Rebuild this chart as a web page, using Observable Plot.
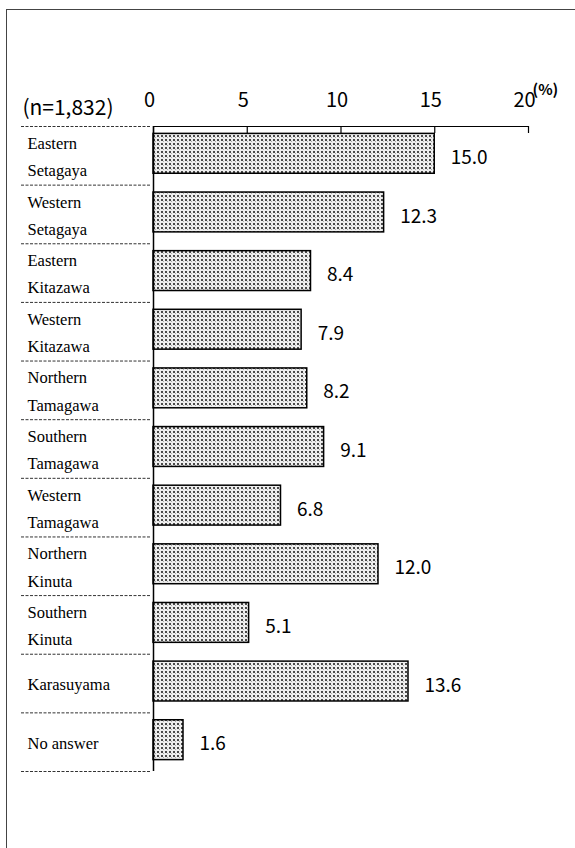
<!DOCTYPE html>
<html>
<head>
<meta charset="utf-8">
<script src="https://cdn.jsdelivr.net/npm/d3@7"></script>
<script src="https://cdn.jsdelivr.net/npm/@observablehq/plot@0.6"></script>
<style>
  html, body { margin: 0; padding: 0; background: #fff; }
  #wrap { position: relative; width: 575px; height: 848px; overflow: hidden; }
  #border { position: absolute; left: 6px; top: 9px; width: 600px; height: 900px;
            border-left: 1.5px solid #444; border-top: 1.5px solid #444; }
  #chart { position: absolute; left: 0; top: 0; }
</style>
</head>
<body>
<div id="wrap"><div id="border"></div><div id="chart"></div></div>
<script>
const districts = [
  "Eastern\nSetagaya", "Western\nSetagaya", "Eastern\nKitazawa", "Western\nKitazawa",
  "Northern\nTamagawa", "Southern\nTamagawa", "Western\nTamagawa", "Northern\nKinuta",
  "Southern\nKinuta", "Karasuyama", "No answer"
];
const percents = [15.0, 12.3, 8.4, 7.9, 8.2, 9.1, 6.8, 12.0, 5.1, 13.6, 1.6];
const tickValues = [0, 5, 10, 15, 20];
const sampleLabel = "(n=1,832)";
const unitLabel = "(%)";

const data = districts.map((d, i) => ({district: d, value: percents[i]}));

const W = 575, H = 848;
const mTop = 126, mBottom = 77, mLeft = 153, mRight = 47;
const innerH = H - mTop - mBottom;
const step = innerH / districts.length;
const sans = "'Noto Sans CJK JP', 'Noto Sans', sans-serif";
const serif = "'Liberation Serif', 'DejaVu Serif', serif";

const chart = Plot.plot({
  width: W, height: H,
  marginTop: mTop, marginBottom: mBottom, marginLeft: mLeft, marginRight: mRight,
  style: {fontFamily: sans, background: "transparent", color: "#000"},
  x: {domain: [0, 20], axis: null},
  y: {domain: districts, paddingInner: 0.32, paddingOuter: 0.16, round: false, axis: null},
  marks: [
    Plot.barX(data, {x: "value", y: "district", fill: "url(#dotpat)", stroke: "#000", strokeWidth: 1.5, dy: -2}),
    // dashed separators in left margin
    Plot.ruleY(districts, {y: d => d, dy: -step / 2, stroke: "#333", strokeWidth: 1, strokeDasharray: "3,1.5",
      insetLeft: -(mLeft - 21), insetRight: (W - mRight) - 150}),
    Plot.ruleY([districts[districts.length - 1]], {y: d => d, dy: step / 2, stroke: "#333", strokeWidth: 1, strokeDasharray: "3,1.5",
      insetLeft: -(mLeft - 21), insetRight: (W - mRight) - 150}),
    // axis lines
    Plot.ruleX([0], {stroke: "#000", strokeWidth: 1.5}),
    Plot.ruleY([0], {y: () => districts[0], dy: -step / 2, stroke: "#000", strokeWidth: 1.2}),
    Plot.ruleX(tickValues, {x: d => d, insetBottom: innerH - 7, stroke: "#000", strokeWidth: 1.2}),
    Plot.axisX(tickValues, {anchor: "top", tickSize: 0, tickPadding: 20, fontSize: 20, dx: -4, label: null, tickFormat: d => String(d)}),
    // category labels
    Plot.text(data, {y: "district", text: "district", frameAnchor: "left", textAnchor: "start", dx: -(mLeft - 27),
      lineHeight: 1.65, fontSize: 16.5, fontFamily: serif, fill: "#000", dy: -2}),
    // value labels
    Plot.text(data, {x: "value", y: "district", text: d => d.value.toFixed(1), textAnchor: "start", dx: 16, dy: 2,
      fontSize: 19, fill: "#000"}),
    Plot.text([sampleLabel], {text: d => d, frameAnchor: "top-left", textAnchor: "end", dx: -40, dy: -26, fontSize: 21, fill: "#000"}),
    Plot.text([unitLabel], {text: d => d, frameAnchor: "top-right", textAnchor: "start", dx: 4, dy: -42, fontSize: 15, fontWeight: "bold", fill: "#000"})
  ]
});

// dotted pattern for bars
const svg = d3.select(chart);
const defs = svg.insert("defs", ":first-child");
const pat = defs.append("pattern").attr("id", "dotpat").attr("patternUnits", "userSpaceOnUse")
  .attr("width", 4).attr("height", 4);
pat.append("rect").attr("width", 4).attr("height", 4).attr("fill", "#eeeeee");
pat.append("rect").attr("x", 1).attr("y", 1).attr("width", 2).attr("height", 2).attr("fill", "#4a4a4a");
pat.append("rect").attr("x", 3).attr("y", 3).attr("width", 1).attr("height", 1).attr("fill", "#aaa");

document.getElementById("chart").appendChild(chart);
</script>
</body>
</html>
